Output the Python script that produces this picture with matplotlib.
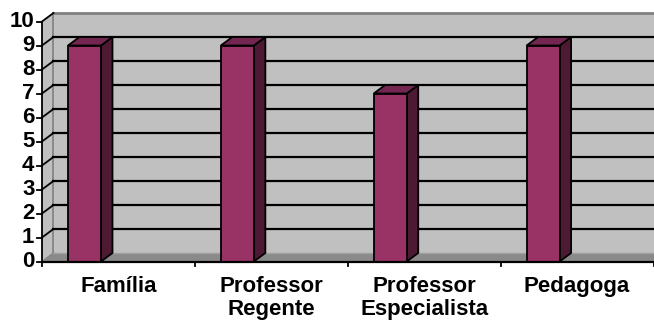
import matplotlib.pyplot as plt
from matplotlib.patches import Polygon

plt.rcParams['font.family'] = ['Liberation Sans', 'DejaVu Sans']

categories = ['Família', 'Professor\nRegente', 'Professor\nEspecialista', 'Pedagoga']
values = [9, 9, 7, 9]
yticks = list(range(0, 11))

# 3D look: depth offset of the back wall, in data units
DX = 0.075
DY = 0.354
BAR_LEFT = 0.17
BAR_W = 0.216

WALL = '#c0c0c0'
FLOOR = '#8a8a8a'
FRONT = '#993366'
SIDE = '#4d1933'
TOP = '#732650'

fig = plt.figure(figsize=(6.54, 3.22), dpi=100)
ax = fig.add_axes([42 / 654, 60.5 / 322, 611.5 / 654, 240 / 322])
ax.set_xlim(0, 4)
ax.set_ylim(0, 10)
ax.axis('off')

n = len(categories)
ymax = yticks[-1]

# back wall and left side wall
ax.add_patch(Polygon([(DX, DY), (n + DX + 1, DY), (n + DX + 1, ymax + DY), (DX, ymax + DY)],
                     closed=True, fc=WALL, ec='none', clip_on=False, zorder=1))
ax.add_patch(Polygon([(0, 0), (DX, DY), (DX, ymax + DY), (0, ymax)],
                     closed=True, fc=WALL, ec='none', clip_on=False, zorder=1))
ax.plot([DX, DX], [DY, ymax + DY], color='#808080', lw=1.2, clip_on=False, zorder=2)
ax.plot([DX, n + 1], [ymax + DY, ymax + DY], color='#808080', lw=2, clip_on=False, zorder=2)

# gridlines on the walls
for v in yticks[1:]:
    ax.plot([0, DX], [v, v + DY], color='black', lw=1.3, clip_on=False, zorder=2)
    if v < ymax:
        ax.plot([DX, n + 1], [v + DY, v + DY], color='black', lw=1.6, clip_on=False, zorder=2)
ax.plot([0, DX], [0, DY], color='#808080', lw=1, clip_on=False, zorder=2)

# floor
ax.add_patch(Polygon([(0, 0), (n + 1, 0), (n + 1, DY), (DX, DY)],
                     closed=True, fc=FLOOR, ec='none', clip_on=False, zorder=3))
ax.plot([DX, n + 1], [DY, DY], color='#a0a0a0', lw=1, clip_on=False, zorder=3)

# columns
for i, v in enumerate(values):
    x0 = i + BAR_LEFT
    x1 = x0 + BAR_W
    ax.add_patch(Polygon([(x1, 0), (x1 + DX, DY), (x1 + DX, v + DY), (x1, v)],
                         closed=True, fc=SIDE, ec='black', lw=1.3, joinstyle='miter', zorder=4))
    ax.add_patch(Polygon([(x0, v), (x1, v), (x1 + DX, v + DY), (x0 + DX, v + DY)],
                         closed=True, fc=TOP, ec='black', lw=1.3, joinstyle='miter', zorder=4))
    ax.add_patch(Polygon([(x0, 0), (x1, 0), (x1, v), (x0, v)],
                         closed=True, fc=FRONT, ec='black', lw=1.3, joinstyle='miter', zorder=5))

# axes lines, ticks and labels
ax.plot([0, 0], [0, ymax], color='black', lw=1.3, clip_on=False, zorder=6)
ax.plot([0, n], [0, 0], color='black', lw=1.6, clip_on=False, zorder=6)
for v in yticks:
    ax.plot([-0.03, 0], [v, v], color='black', lw=1.3, clip_on=False, zorder=6)
    ax.text(-0.05, v, str(v), ha='right', va='center', fontsize=16,
            fontweight='bold', zorder=6)
for i in range(n + 1):
    ax.plot([i, i], [0, -0.2], color='black', lw=1.3, clip_on=False, zorder=6)
for i, c in enumerate(categories):
    ax.text(i + 0.5, -0.6, c, ha='center', va='top', fontsize=16,
            fontweight='bold', linespacing=1.12, zorder=6)

fig.savefig('out.png', dpi=100)
